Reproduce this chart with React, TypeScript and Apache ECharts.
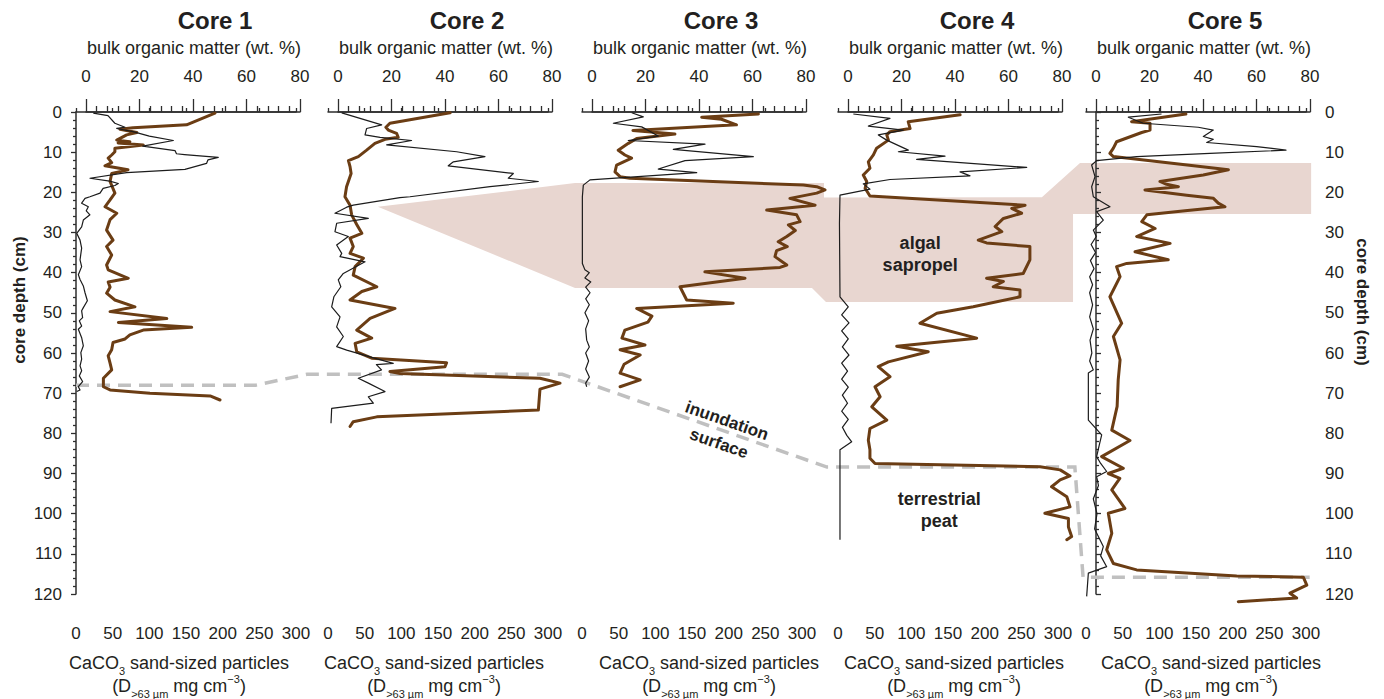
import React, { useEffect, useRef } from "react";
import * as echarts from "echarts";

// ---- profile data: [depth (cm), value] ----
// bulk organic matter (wt. %)
const CORE1_ORGANIC = [[0.3,48.2],[3.2,37.6],[3.9,17.6],[4.3,12.7],[5.1,19.0],[5.7,15.2],[7.0,11.5],[7.4,16.4],[7.7,12.0],[8.2,21.4],[9.0,10.8],[9.9,10.8],[10.7,9.6],[11.5,8.3],[12.6,9.6],[13.4,7.1],[14.4,15.7],[15.3,9.6],[17.3,9.0],[20.2,10.8],[21.9,9.0],[23.6,7.1],[25.2,11.5],[26.8,9.0],[29.4,7.7],[31.9,10.1],[33.5,7.7],[35.6,9.6],[38.1,7.7],[39.3,8.3],[41.4,15.8],[42.3,8.3],[43.6,9.0],[45.1,7.7],[46.8,10.8],[48.5,18.3],[49.7,9.0],[51.4,30.2],[52.4,12.1],[53.6,39.5],[54.3,21.4],[55.5,16.4],[56.5,14.6],[57.4,10.1],[59.2,9.6],[60.7,8.3],[62.5,9.0],[64.2,9.6],[66.3,6.5],[68.4,6.5],[69.2,9.0],[70.0,23.9],[70.7,46.4],[71.7,50.1]];
const CORE2_ORGANIC = [[0.2,41.9],[2.8,19.4],[3.8,17.9],[4.5,18.8],[5.3,21.9],[6.3,22.5],[6.8,17.6],[7.8,13.8],[9.5,10.7],[11.1,7.6],[12.1,3.9],[13.6,4.5],[15.3,4.9],[18.6,3.2],[21.1,2.6],[23.2,4.5],[25.6,5.1],[28.0,7.0],[30.2,8.9],[31.4,4.5],[33.5,5.7],[35.2,4.5],[36.4,9.5],[38.5,6.4],[40.6,5.7],[43.5,14.5],[44.7,8.9],[46.8,4.5],[48.9,21.3],[51.4,12.0],[54.3,7.0],[56.3,12.6],[57.6,6.4],[59.7,7.0],[61.3,12.6],[62.4,40.6],[63.4,40.0],[64.6,19.4],[65.1,23.2],[66.3,75.5],[67.5,83.0],[69.0,75.5],[74.2,74.9],[75.9,14.5],[77.1,5.7],[78.3,4.5]];
const CORE3_ORGANIC = [[0.5,62.2],[1.3,41.0],[1.8,48.4],[3.2,54.0],[4.6,15.3],[5.5,31.0],[6.6,16.7],[7.8,13.6],[9.5,9.8],[10.7,12.3],[11.5,14.8],[13.2,9.2],[14.9,8.6],[16.1,10.5],[16.5,14.2],[18.2,79.0],[18.6,84.0],[19.4,87.1],[20.2,84.0],[21.5,74.0],[23.2,83.4],[24.4,65.3],[25.6,76.5],[27.3,77.8],[28.1,73.4],[29.5,76.0],[31.0,72.8],[32.3,69.6],[33.5,73.0],[34.5,69.0],[36.0,68.4],[38.1,72.8],[38.7,70.3],[39.8,42.2],[41.4,57.2],[43.5,32.9],[46.8,35.4],[47.6,52.8],[48.9,16.7],[50.8,22.4],[52.3,20.9],[54.3,12.3],[56.3,11.2],[58.0,19.8],[59.2,10.5],[60.5,18.0],[62.8,12.0],[65.0,10.5],[66.7,18.0],[68.4,10.5]];
const CORE4_ORGANIC = [[0.7,41.9],[2.4,22.5],[4.1,23.2],[4.9,15.7],[5.7,14.5],[7.0,15.1],[9.0,10.7],[10.7,9.5],[12.4,7.6],[14.0,8.2],[15.7,5.7],[17.3,7.0],[19.0,6.4],[20.9,8.2],[23.2,66.2],[24.0,61.2],[25.2,64.9],[26.5,58.1],[28.5,55.0],[29.8,57.5],[31.9,48.7],[32.6,51.8],[33.5,68.0],[36.8,68.0],[40.2,65.5],[41.4,51.8],[42.2,58.1],[43.5,54.3],[44.3,64.3],[46.0,64.3],[48.5,46.8],[50.1,33.2],[52.6,26.9],[56.3,48.1],[58.3,18.2],[59.7,30.0],[62.2,15.1],[63.4,11.3],[65.9,15.7],[68.4,10.1],[70.9,12.0],[73.4,8.9],[76.7,14.5],[78.8,8.2],[81.7,7.6],[84.1,8.2],[86.2,8.2],[87.5,10.1],[88.3,71.8],[89.1,79.3],[90.6,83.0],[91.6,79.3],[93.3,76.1],[95.8,81.8],[98.3,83.0],[99.9,73.6],[101.2,82.4],[103.3,82.4],[105.7,83.6],[106.5,81.8]];
const CORE5_ORGANIC = [[0.5,33.6],[2.4,13.3],[2.8,20.2],[4.5,20.2],[5.1,17.1],[7.4,7.7],[9.0,6.5],[10.3,5.2],[11.1,6.5],[14.4,49.5],[15.7,40.1],[17.3,23.9],[18.0,26.4],[18.6,30.8],[19.4,18.3],[20.7,33.9],[21.5,43.9],[22.7,45.7],[23.6,48.2],[24.6,33.3],[25.6,19.0],[27.3,17.1],[29.0,22.1],[31.0,15.2],[32.7,27.7],[34.8,14.6],[36.8,27.0],[37.7,11.5],[38.5,7.7],[41.0,9.0],[46.0,5.2],[52.6,9.6],[55.9,6.5],[61.7,9.0],[66.7,8.3],[73.3,7.9],[79.2,5.9],[81.8,12.7],[85.8,2.1],[88.7,10.2],[90.0,4.6],[91.2,8.9],[94.1,5.9],[98.7,10.8],[99.9,4.6],[104.9,5.9],[109.0,4.0],[112.4,6.5],[114.0,15.2],[115.5,52.6],[115.8,77.5],[117.8,78.8],[119.8,72.5],[121.0,75.0],[121.9,53.2]];

// CaCO3 sand-sized particles (mg cm-3)
const CORE1_CARBONATE = [[0.3,23.6],[0.9,43.6],[2.8,53],[3.8,66.8],[4.1,55.5],[4.9,77.7],[6.0,100],[7.1,132.7],[8.5,91],[9.6,135],[10.4,137],[10.6,148],[11.3,194],[11.9,180],[12.8,178],[14.3,148.6],[15.1,69],[16.5,19],[17.2,46],[17.8,57.7],[18.3,53],[19.0,37],[20.2,32.7],[21.1,19],[21.5,12.3],[22.7,7.7],[23.6,16.8],[24.6,14],[25.6,19],[26.9,10],[28.6,7.7],[30.2,1],[31.9,5.5],[33.9,7.7],[36.8,5.5],[38.5,7.7],[40.5,3.2],[41.7,5.5],[43.3,10],[45.0,12.3],[47.0,15.5],[48.7,10],[49.5,7.7],[51.2,9],[52.0,4.5],[53.3,7.7],[54.1,3.2],[56.2,7.7],[58.2,10],[59.9,6.6],[61.5,7.7],[63.2,5.5],[64.4,7.7],[65.7,4.5],[67.1,9],[68.4,3.2],[69.2,5.5],[69.6,1]];
const CORE2_CARBONATE = [[0.2,18.7],[3.2,73.2],[4.1,52.7],[5.7,50.5],[6.3,71],[7.1,114],[8.2,80],[9.9,175.5],[11.1,214],[12.4,171],[13.4,164],[15.3,252.7],[16.5,245.9],[17.3,286.8],[18.6,220.9],[21.1,111.8],[21.3,98],[23.2,34.5],[23.7,25.5],[25.2,9.5],[26.5,55],[27.7,11.8],[29.8,9.5],[31.0,27.7],[33.1,11.8],[35.2,18.7],[36.0,16.4],[37.3,50.5],[40.2,20.9],[41.8,14],[43.5,17.5],[46.0,8],[48.5,5],[51.0,16.4],[53.5,11.8],[55.9,20.9],[58.4,11.8],[59.3,25.5],[61.1,59.6],[62.6,89],[62.9,66],[64.2,73],[66.3,41.3],[67.5,55],[69.6,77.7],[70.9,55],[72.5,61.8],[73.8,5],[77.5,4.1]];
const CORE3_CARBONATE = [[0.2,67.8],[1.2,83.6],[2.8,42.7],[3.7,81.4],[6.0,104],[7.1,63],[8.0,167.7],[9.3,124.5],[11.1,233.6],[12.1,140.5],[14.2,104],[15.1,156.4],[16.3,61],[16.9,10.9],[18.2,1.8],[21.1,0.5],[37.7,0.5],[39.3,4],[40.0,10],[41.3,4],[42.3,12],[43.6,5],[45.0,11],[46.5,5],[48.0,10],[50.0,4],[52.0,9],[54.0,5],[56.8,6.4],[58.5,10],[60.0,5],[62.0,9],[64.0,5],[66.0,10],[67.5,5],[68.4,6.4]];
const CORE4_CARBONATE = [[0.5,20.9],[1.6,70.9],[3.5,41.4],[4.5,89],[5.7,55],[7.0,66.4],[9.5,95.9],[9.9,82.3],[11.0,145.9],[11.8,107.3],[13.8,257.3],[14.9,166.4],[15.9,180],[16.8,70.9],[17.9,34.5],[19.2,43.6],[20.7,2.7],[27.7,2],[46.0,2.7],[48.5,14],[50.5,5],[52.5,15],[54.5,5],[56.5,14],[58.5,6],[60.5,15],[62.5,5],[64.5,13],[66.5,5],[68.5,14],[70.5,6],[72.5,13],[74.5,5],[76.5,14],[78.5,6],[80.5,12],[82.1,18.7],[84.1,2.7],[88.3,2.7],[106.5,2.7]];
const CORE5_CARBONATE = [[0.5,103],[1.3,57.7],[2.8,78],[3.8,153],[4.5,173.6],[6.1,160],[6.8,173.6],[7.6,164.6],[8.6,232.7],[9.5,272.7],[10.3,169],[11.1,69],[12.1,14.5],[13.2,7.7],[16.1,12.3],[18.6,7.7],[21.1,10],[23.6,32.7],[24.8,14.5],[26.9,23.6],[29.4,10],[31.0,14],[33.0,7],[35.0,13],[37.0,6],[39.0,11],[41.0,5],[43.0,9],[45.0,5],[48.0,9],[51.0,5],[54.0,10],[56.8,5.5],[60.0,8],[62.0,5],[64.2,10],[65.0,3.2],[76.7,3.2],[80.4,21.4],[83.0,18],[85.8,14.5],[87.5,20],[89.5,28.2],[90.8,14.5],[93.0,17],[96.3,10],[100.0,15],[103.8,11.8],[108.2,23.6],[110.5,20],[113.2,28.2],[114.8,3.2],[120.6,0.9]];

const CORE_NAMES = ["Core 1", "Core 2", "Core 3", "Core 4", "Core 5"];
const ORGANIC = [CORE1_ORGANIC, CORE2_ORGANIC, CORE3_ORGANIC, CORE4_ORGANIC, CORE5_ORGANIC];
const CARBONATE = [CORE1_CARBONATE, CORE2_CARBONATE, CORE3_CARBONATE, CORE4_CARBONATE, CORE5_CARBONATE];

const ORGANIC_RANGE = [0, 80];
const ORGANIC_PLOT_MAX = 100; // peat values run past the 80 % tick
const CARBONATE_RANGE = [0, 300];
const DEPTH_RANGE = [0, 120];

// algal sapropel outline: [core index, position on that core's CaCO3 axis, depth]
const SAPROPEL_OUTLINE = [
  [1, 68, 23.6], [2, -9.5, 17.7], [2, 330, 17.7], [2, 330, 21.3], [3, 278, 21.2],
  [3, 330, 12.7], [4, 307, 12.7], [4, 307, 25.4], [3, 320.5, 25.4], [3, 320.5, 47.3],
  [3, -16.4, 47.3], [2, 313.6, 43.8], [2, -9.5, 43.8],
];
// inundation surface trace: [core index, position on CaCO3 axis, depth]
const INUNDATION_TRACE = [
  [0, 0, 68], [0, 245, 68], [0, 315, 65.3], [2, -27, 65.3],
  [3, -15, 88.4], [3, 323, 88.4], [4, -4, 115.8], [4, 305, 115.8],
];

// ---- layout & style ----
const FONT = "'Liberation Sans', Arial, Helvetica, sans-serif";
const TEXT = "#231f20";
const AXIS = "#2e2e2e";
const BROWN = "#6b3d14";
const PLOT_TOP = 112;
const PLOT_HEIGHT = 482;
const ORG_LEFT = [86, 338, 592, 848, 1096];
const ORG_WIDTH = 214;
const CARB_LEFT = [76, 328, 582, 838, 1086];
const CARB_WIDTH = 220;
const BOTTOM_TITLE_X = [179, 434, 709, 954, 1211];

const axisLine = { show: true, lineStyle: { color: AXIS, width: 1.5 } };
const tickLine = { color: AXIS, width: 1.3 };
const labelStyle = { color: TEXT, fontSize: 17, fontFamily: FONT };

function depthAxis(gridIndex: number, extra: any) {
  return {
    gridIndex, type: "value", inverse: true,
    min: DEPTH_RANGE[0], max: DEPTH_RANGE[1], interval: 10,
    axisLine, axisTick: { show: true, inside: false, length: 5, lineStyle: tickLine },
    minorTick: { show: true, splitNumber: 5, length: 3, lineStyle: tickLine },
    axisLabel: { ...labelStyle, margin: 10 },
    splitLine: { show: false }, minorSplitLine: { show: false },
    ...extra,
  };
}

function buildOption() {
  const grid: any[] = [];
  const xAxis: any[] = [];
  const yAxis: any[] = [];
  const series: any[] = [];
  // grids 0..9: visible axes (organic top / carbonate bottom for each core)
  for (let i = 0; i < 5; i++) {
    grid.push({ left: ORG_LEFT[i], top: PLOT_TOP, width: ORG_WIDTH, height: PLOT_HEIGHT, outerBoundsMode: "none" });
    grid.push({ left: CARB_LEFT[i], top: PLOT_TOP, width: CARB_WIDTH, height: PLOT_HEIGHT, outerBoundsMode: "none" });
    xAxis.push({
      gridIndex: 2 * i, type: "value", position: "top", offset: 9,
      min: ORGANIC_RANGE[0], max: ORGANIC_RANGE[1], interval: 20,
      axisLine, axisTick: { show: true, inside: false, length: 13, lineStyle: tickLine },
      minorTick: { show: true, splitNumber: 5, length: 6, lineStyle: tickLine },
      axisLabel: { ...labelStyle, margin: 18 },
      splitLine: { show: false }, minorSplitLine: { show: false },
    });
    xAxis.push({
      gridIndex: 2 * i + 1, type: "value", position: "bottom", offset: 19,
      min: CARBONATE_RANGE[0], max: CARBONATE_RANGE[1], interval: 50,
      axisLine, axisTick: { show: true, inside: true, length: 4, lineStyle: tickLine },
      axisLabel: { ...labelStyle, margin: 12 },
      splitLine: { show: false },
    });
    for (let k = 0; k < 2; k++) {
      const idx = 2 * i + k;
      const isLeft = idx === 1;
      const isRight = idx === 8;
      yAxis.push(depthAxis(idx, {
        show: isLeft || isRight,
        position: isRight ? "right" : "left",
        offset: isLeft ? 4 : isRight ? 5 : 0,
      }));
    }
  }
  // grids 10..14: organic data scale, same origin and px/unit as the top axis, extended to 100 %
  for (let i = 0; i < 5; i++) {
    const g = grid.length;
    grid.push({
      left: ORG_LEFT[i], top: PLOT_TOP, height: PLOT_HEIGHT, outerBoundsMode: "none",
      width: (ORG_WIDTH * ORGANIC_PLOT_MAX) / ORGANIC_RANGE[1],
    });
    xAxis.push({ gridIndex: g, type: "value", show: false, min: ORGANIC_RANGE[0], max: ORGANIC_PLOT_MAX });
    yAxis.push(depthAxis(g, { show: false }));
  }
  for (let i = 0; i < 5; i++) {
    series.push({
      type: "line", xAxisIndex: 10 + i, yAxisIndex: 10 + i,
      data: ORGANIC[i].map(([d, v]) => [v, d]),
      symbol: "none", showSymbol: false, clip: false, silent: true, z: 3,
      lineStyle: { color: BROWN, width: 3, join: "round", cap: "round" },
    });
    series.push({
      type: "line", xAxisIndex: 2 * i + 1, yAxisIndex: 2 * i + 1,
      data: CARBONATE[i].map(([d, v]) => [v, d]),
      symbol: "none", showSymbol: false, clip: false, silent: true, z: 4,
      lineStyle: { color: "#1c1c1c", width: 1.2, join: "round" },
    });
  }
  return { animation: false, backgroundColor: "#ffffff", grid, xAxis, yAxis, series };
}

function text(x: number, y: number, str: string, size: number, bold: boolean, extra: any = {}) {
  return {
    type: "text", x, y, z: 10, silent: true, ...extra,
    style: {
      text: str, fill: TEXT, fontSize: size, fontFamily: FONT, fontWeight: bold ? "bold" : "normal",
      align: "center", verticalAlign: "middle", textAlign: "center", textVerticalAlign: "middle",
      ...(extra.style || {}),
    },
  };
}

function buildOverlay(chart: echarts.ECharts) {
  const toPx = (core: number, carb: number, depth: number) =>
    chart.convertToPixel({ xAxisIndex: 2 * core + 1, yAxisIndex: 2 * core + 1 } as any, [carb, depth]) as number[];

  const sapropel = SAPROPEL_OUTLINE.map(([c, v, d]) => toPx(c, v, d));
  const inundation = INUNDATION_TRACE.map(([c, v, d]) => toPx(c, v, d));

  const els: any[] = [
    { type: "polygon", z: 0, silent: true, shape: { points: sapropel }, style: { fill: "#e8d6d0" } },
    { type: "polyline", z: 1, silent: true, shape: { points: inundation },
      style: { stroke: "#c0c0c0", lineWidth: 3.5, lineDash: [13, 8], fill: null } },
  ];

  // headers and axis titles
  const rich = {
    a: { fontSize: 18, lineHeight: 26, fontFamily: FONT, fill: TEXT },
    s: { fontSize: 11, lineHeight: 13, fontFamily: FONT, fill: TEXT, verticalAlign: "bottom" },
    t: { fontSize: 11, lineHeight: 13, fontFamily: FONT, fill: TEXT, verticalAlign: "top" },
  };
  for (let i = 0; i < 5; i++) {
    const mid = ORG_LEFT[i] + ORG_WIDTH / 2;
    els.push(text(mid + 22, 20, CORE_NAMES[i], 24, true));
    els.push(text(mid + 1, 47.5, "bulk organic matter (wt. %)", 18, false));
    els.push(text(BOTTOM_TITLE_X[i], 663, "{a|CaCO}{s|3}{a| sand-sized particles}", 18, false, { style: { rich } }));
    els.push(text(BOTTOM_TITLE_X[i], 686, "{a|(D}{s|>63 µm}{a| mg cm}{t|−3}{a|)}", 18, false, { style: { rich } }));
  }

  els.push(text(19, 300, "core depth (cm)", 17, true, { rotation: Math.PI / 2 }));
  els.push(text(1362, 302, "core depth (cm)", 17, true, { rotation: -Math.PI / 2 }));

  // layer annotations
  const sap = toPx(3, 112, 35.4);
  els.push(text(sap[0], sap[1], "algal\nsapropel", 18, true, { style: { lineHeight: 22 } }));
  const peat = toPx(3, 138, 99.2);
  els.push(text(peat[0], peat[1], "terrestrial\npeat", 18, true, { style: { lineHeight: 22 } }));

  // label laid along the sloping part of the inundation surface
  const p1 = inundation[3];
  const p2 = inundation[4];
  const t = 0.607;
  const ang = Math.atan2(p2[1] - p1[1], p2[0] - p1[0]);
  els.push(text(p1[0] + (p2[0] - p1[0]) * t, p1[1] + (p2[1] - p1[1]) * t + 1.5, "inundation\nsurface", 17, true,
    { rotation: -ang, style: { lineHeight: 24 } }));

  return els;
}

export default function App() {
  const ref = useRef<HTMLDivElement>(null);
  useEffect(() => {
    document.body.style.margin = "0";
    const chart = echarts.init(ref.current as HTMLDivElement, null, { renderer: "svg" });
    chart.setOption(buildOption());
    chart.setOption({ graphic: buildOverlay(chart) });
    return () => chart.dispose();
  }, []);
  return <div ref={ref} style={{ width: 1384, height: 699 }} />;
}
